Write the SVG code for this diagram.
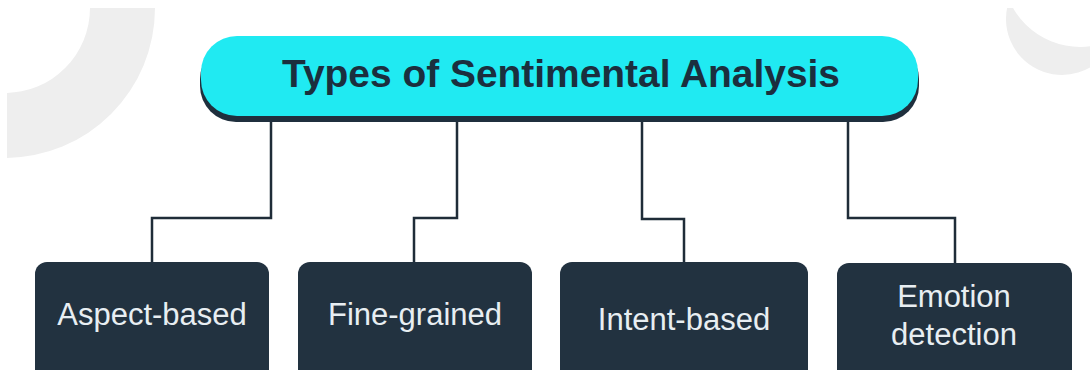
<svg xmlns="http://www.w3.org/2000/svg" width="1090" height="370" viewBox="0 0 1090 370">
  <style>
    .deco { fill: #eeeeee; }
    .link { fill: none; stroke: #1f2c38; stroke-width: 2.5; }
    .box { fill: #223240; }
    .label { font-family: "Liberation Sans", Arial, sans-serif; font-size: 31px; fill: #e8eef2; text-anchor: middle; }
    .title { font-family: "Liberation Sans", Arial, sans-serif; font-size: 38px; font-weight: bold; fill: #1b2f3e; text-anchor: middle; }
  </style>
  <defs>
    <clipPath id="frame">
      <rect x="7" y="8" width="1083" height="362"/>
    </clipPath>
  </defs>

  <rect width="1090" height="370" fill="#ffffff"/>

  <!-- background ornaments -->
  <g id="ornaments" clip-path="url(#frame)">
    <path class="deco" d="M 5 -142 A 150 150 0 0 1 5 158 L 5 93 A 85 85 0 0 0 5 -77 Z"/>
    <path class="deco" d="M 1009.3 0 A 56 56 0 0 0 1110 47.8 L 1110 40.9 A 77 77 0 0 1 1009.1 0 Z"/>
  </g>

  <!-- connectors -->
  <g id="connectors">
    <polyline class="link" points="271,120 271,218 152,218 152,263"/>
    <polyline class="link" points="457,120 457,218 414,218 414,263"/>
    <polyline class="link" points="642,120 642,219 684,219 684,263"/>
    <polyline class="link" points="848,120 848,218 955,218 955,263"/>
  </g>

  <!-- title -->
  <g id="title">
    <rect x="200" y="43" width="719" height="79" rx="36" fill="#1f2f3d"/>
    <rect x="201" y="36" width="717" height="80" rx="36" fill="#20eaf2"/>
    <text class="title" x="561" y="87" textLength="558" lengthAdjust="spacingAndGlyphs">Types of Sentimental Analysis</text>
  </g>

  <g id="aspect-based">
    <rect class="box" x="35" y="262" width="234" height="120" rx="12"/>
    <text class="label" x="152" y="325">Aspect-based</text>
  </g>

  <g id="fine-grained">
    <rect class="box" x="298" y="262" width="234" height="120" rx="12"/>
    <text class="label" x="415" y="325">Fine-grained</text>
  </g>

  <g id="intent-based">
    <rect class="box" x="560" y="262" width="248" height="120" rx="12"/>
    <text class="label" x="684" y="330">Intent-based</text>
  </g>

  <g id="emotion-detection">
    <rect class="box" x="837" y="263" width="235" height="120" rx="12"/>
    <text class="label" x="954" y="307">Emotion</text>
    <text class="label" x="954" y="345">detection</text>
  </g>
</svg>
